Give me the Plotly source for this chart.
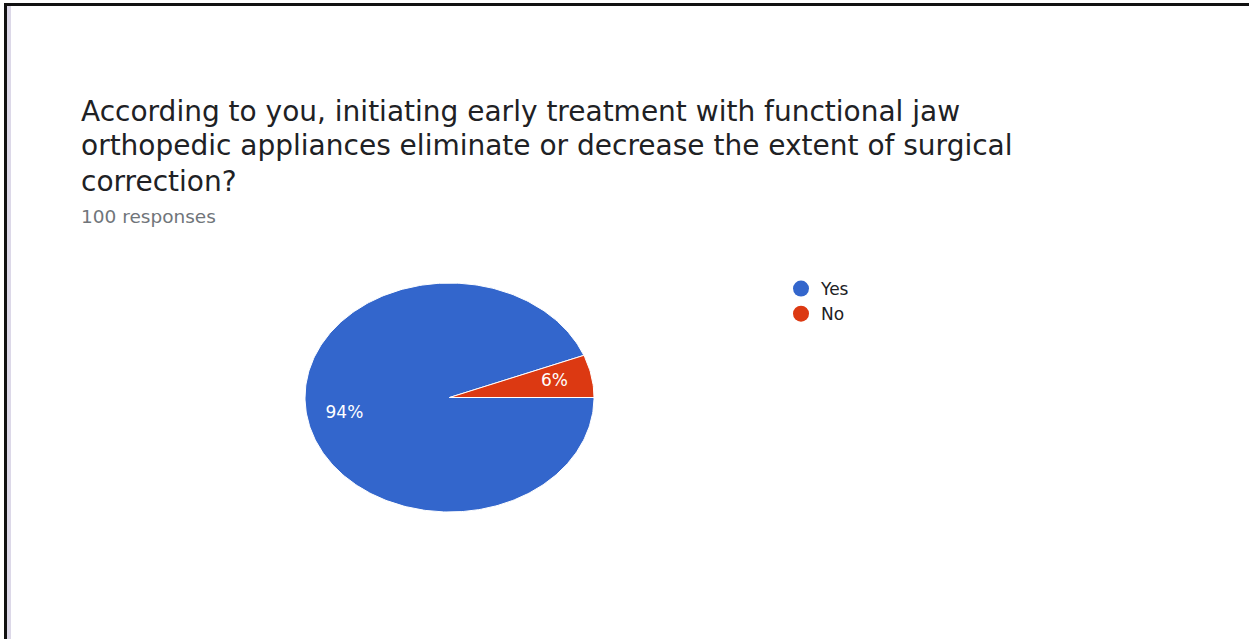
import numpy as np
import plotly.graph_objects as go

# Survey results
labels = ["Yes", "No"]
values = [94, 6]
colors = ["#3366cc", "#dc3912"]

title_lines = [
    "According to you, initiating early treatment with functional jaw",
    "orthopedic appliances eliminate or decrease the extent of surgical",
    "correction?",
]
subtitle = "100 responses"

W, H = 1249, 639


def px_x(p):
    return p / W


def px_y(p):
    return 1 - p / H


fig = go.Figure()

# Slices start at 3 o'clock and run clockwise
total = float(sum(values))
start = 0.0
label_r = 0.74
for lab, val, col in zip(labels, values, colors):
    frac = val / total
    a0 = start
    a1 = start - frac * 2 * np.pi
    n = max(int(frac * 360), 4)
    t = np.linspace(a0, a1, n)
    xs = np.concatenate([[0], np.cos(t), [0]])
    ys = np.concatenate([[0], np.sin(t), [0]])
    fig.add_trace(go.Scatter(
        x=xs, y=ys, mode="lines", fill="toself", fillcolor=col,
        line=dict(color="white", width=1), hoverinfo="skip",
        showlegend=False, legendgroup=lab,
    ))
    mid = (a0 + a1) / 2
    fig.add_trace(go.Scatter(
        x=[label_r * np.cos(mid)], y=[label_r * np.sin(mid)], mode="text",
        text=[f"{val / total * 100:.0f}%"],
        textfont=dict(family="DejaVu Sans", size=17, color="white"),
        showlegend=False, hoverinfo="skip",
    ))
    start = a1

# Legend entries
for lab, col in zip(labels, colors):
    fig.add_trace(go.Scatter(
        x=[None], y=[None], mode="markers", name=lab, legendgroup=lab,
        marker=dict(symbol="circle", size=16, color=col),
    ))

annotations = []
for i, line in enumerate(title_lines):
    annotations.append(dict(
        x=px_x(79), y=px_y(111 + i * 35), xref="paper", yref="paper",
        xanchor="left", yanchor="middle", showarrow=False, text=line,
        font=dict(family="DejaVu Sans", size=28, color="#202124"),
    ))
annotations.append(dict(
    x=px_x(79), y=px_y(216), xref="paper", yref="paper",
    xanchor="left", yanchor="middle", showarrow=False, text=subtitle,
    font=dict(family="DejaVu Sans", size=18.5, color="#70757a"),
))

shapes = [
    dict(type="rect", xref="paper", yref="paper", x0=px_x(7), x1=px_x(11),
         y0=0, y1=px_y(6), fillcolor="#dcd8e8", line=dict(width=0), layer="below"),
    dict(type="rect", xref="paper", yref="paper", x0=px_x(4), x1=px_x(7),
         y0=0, y1=px_y(3), fillcolor="#111111", line=dict(width=0)),
    dict(type="rect", xref="paper", yref="paper", x0=px_x(4), x1=1,
         y0=px_y(6), y1=px_y(3), fillcolor="#111111", line=dict(width=0)),
]

fig.update_layout(
    width=W, height=H,
    margin=dict(l=0, r=0, t=0, b=0),
    paper_bgcolor="white", plot_bgcolor="white",
    xaxis=dict(domain=[px_x(305), px_x(594)], range=[-1, 1], visible=False, fixedrange=True),
    yaxis=dict(domain=[px_y(512), px_y(283)], range=[-1, 1], visible=False, fixedrange=True),
    showlegend=True,
    legend=dict(
        x=px_x(781), y=px_y(271), xanchor="left", yanchor="top",
        font=dict(family="DejaVu Sans", size=17, color="#202124"),
        bgcolor="rgba(0,0,0,0)", tracegroupgap=0,
    ),
    annotations=annotations,
    shapes=shapes,
)

fig.write_html("out.html")
